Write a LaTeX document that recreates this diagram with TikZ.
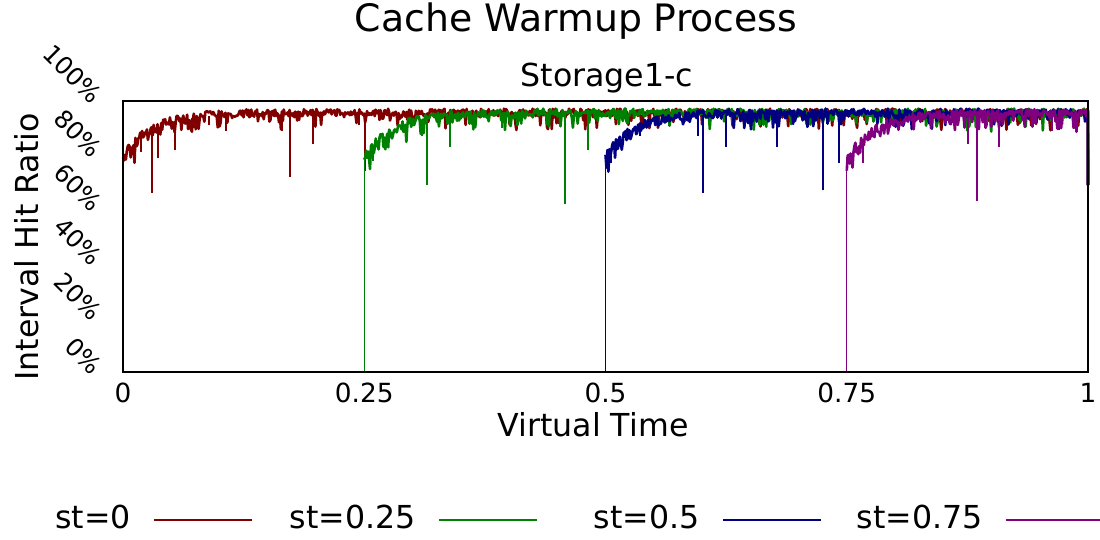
\documentclass[tikz,border=0pt]{standalone}
\usepackage{fontspec}
\setmainfont{DejaVu Sans}
\usetikzlibrary{calc, positioning}
\def\plotx{2.46}
\def\ploty{3.36}
\def\plotw{19.3}
\def\ploth{5.42}
\def\curvewidth{1.5pt}
\def\framewidth{1.1pt}
\def\legendlen{1.96cm}
\def\legendgap{0.46cm}
\definecolor{stzero}{HTML}{800000}
\definecolor{stquarter}{HTML}{008000}
\definecolor{sthalf}{HTML}{000080}
\definecolor{stthreeq}{HTML}{800080}
% big dips of each run: position/depth
\def\dipszero{0.019/0.81,0.030/0.66,0.036/0.79,0.054/0.82,0.072/0.90,0.089/0.91,0.107/0.89,0.165/0.89,0.173/0.72,0.197/0.84,0.245/0.91,0.251/0.74}
\def\dipsquarter{0.259/0.78,0.310/0.87,0.315/0.69,0.339/0.83,0.393/0.90,0.458/0.62,0.482/0.82}
\def\dipshalf{0.506/0.77,0.536/0.87,0.596/0.87,0.601/0.66,0.625/0.83,0.678/0.83,0.725/0.67,0.742/0.77}
\def\dipsthreeq{0.767/0.77,0.820/0.90,0.876/0.84,0.885/0.63,0.908/0.83,0.963/0.89}
\tikzset{
	declare function={
		warm(\t,\s)=0.972-0.16*exp(-(\t-\s)/0.03);
		jitter(\t,\s)=(0.028+0.035*exp(-(\t-\s)/0.03))*rnd+0.06*rnd^8;
	},
	% texts
	title/.style={font=\fontsize{21.5}{25}\selectfont, anchor=base},
	subtitle/.style={font=\fontsize{18}{21}\selectfont, anchor=base},
	axislabel/.style={font=\fontsize{18}{21}\selectfont, anchor=base},
	xticklabel/.style={font=\fontsize{15}{18}\selectfont, anchor=base},
	yticklabel/.style={font=\fontsize{14}{17}\selectfont, rotate=-45, anchor=east},
	legendtext/.style={font=\fontsize{18}{21}\selectfont, anchor=base east, inner xsep=0pt},
	% lines
	frame/.style={draw=black, line width=\framewidth},
	curve/.style={line width=\curvewidth, line join=round},
	dip/.style={line width=1.2pt},
	jump/.style={line width=0.8pt},
	legendline/.style={line width=1.3pt},
}
\begin{document}
\begin{tikzpicture}
	\useasboundingbox (0,0) rectangle (22,10.8);
	\pgfmathsetseed{4242}
	
	% Titles
	\node[title] (title) at (11.52,10.16) {Cache Warmup Process};
	\node[subtitle] (subtitle) at (12.14,9.06) {Storage1-c};
	
	% Runs
	\begin{scope}[shift={(\plotx,\ploty)}, xscale=\plotw, yscale=\ploth]
		\foreach \st/\col/\n/\dips in {
			0/stzero/1000/\dipszero,
			0.25/stquarter/750/\dipsquarter,
			0.5/sthalf/500/\dipshalf,
			0.75/stthreeq/250/\dipsthreeq
		} {
			\draw[
				jump, \col
			] (0,0) -- (\st,0) -- (\st,{warm(\st,\st)-0.02});
			\draw[
				curve, \col
			] plot[variable=\t, domain=\st:1, samples=\n]
			  ({\t},{warm(\t,\st)-jitter(\t,\st)})
			  -- (1,0.69);
			%% dips
			\edef\diplist{\dips}
			\foreach \x/\d in \diplist {
				\draw[
					dip, \col
				] (\x,{warm(\x,\st)-0.02}) -- (\x,\d);
			}
		}
		\coordinate (plot_sw) at (0,0);
		\coordinate (plot_ne) at (1,1);
	\end{scope}
	\draw[frame] (plot_sw) rectangle (plot_ne);
	
	% Ticks
	\foreach \v/\lab [count=\i] in {0/0,0.25/0.25,0.5/0.5,0.75/0.75,1/1} {
		\node[xticklabel] (xtick\i) at ($(plot_sw)+(\v*\plotw,-0.62)$) {\lab};
	}
	\foreach \v in {0,20,40,60,80,100} {
		\node[yticklabel] (ytick\v) at ($(plot_sw)+(-0.42,\v*\ploth/100-0.04)$) {\v\%};
	}
	
	% Axis labels
	\node[axislabel] (xlabel) at (11.86,2.06) {Virtual Time};
	\node[axislabel, rotate=90] (ylabel) at (0.76,5.86) {Interval Hit Ratio};
	
	% Legend
	\foreach \lab/\col/\x [count=\i] in {0/stzero/2.62, 0.25/stquarter/8.32, 0.5/sthalf/14.0, 0.75/stthreeq/19.66} {
		\node[legendtext] (leg\i) at (\x,0.22) {st=\lab};
		\draw[legendline, \col] ([xshift=\legendgap, yshift=0.18cm]leg\i.base east) -- ++(\legendlen,0);
	}
\end{tikzpicture}
\end{document}
